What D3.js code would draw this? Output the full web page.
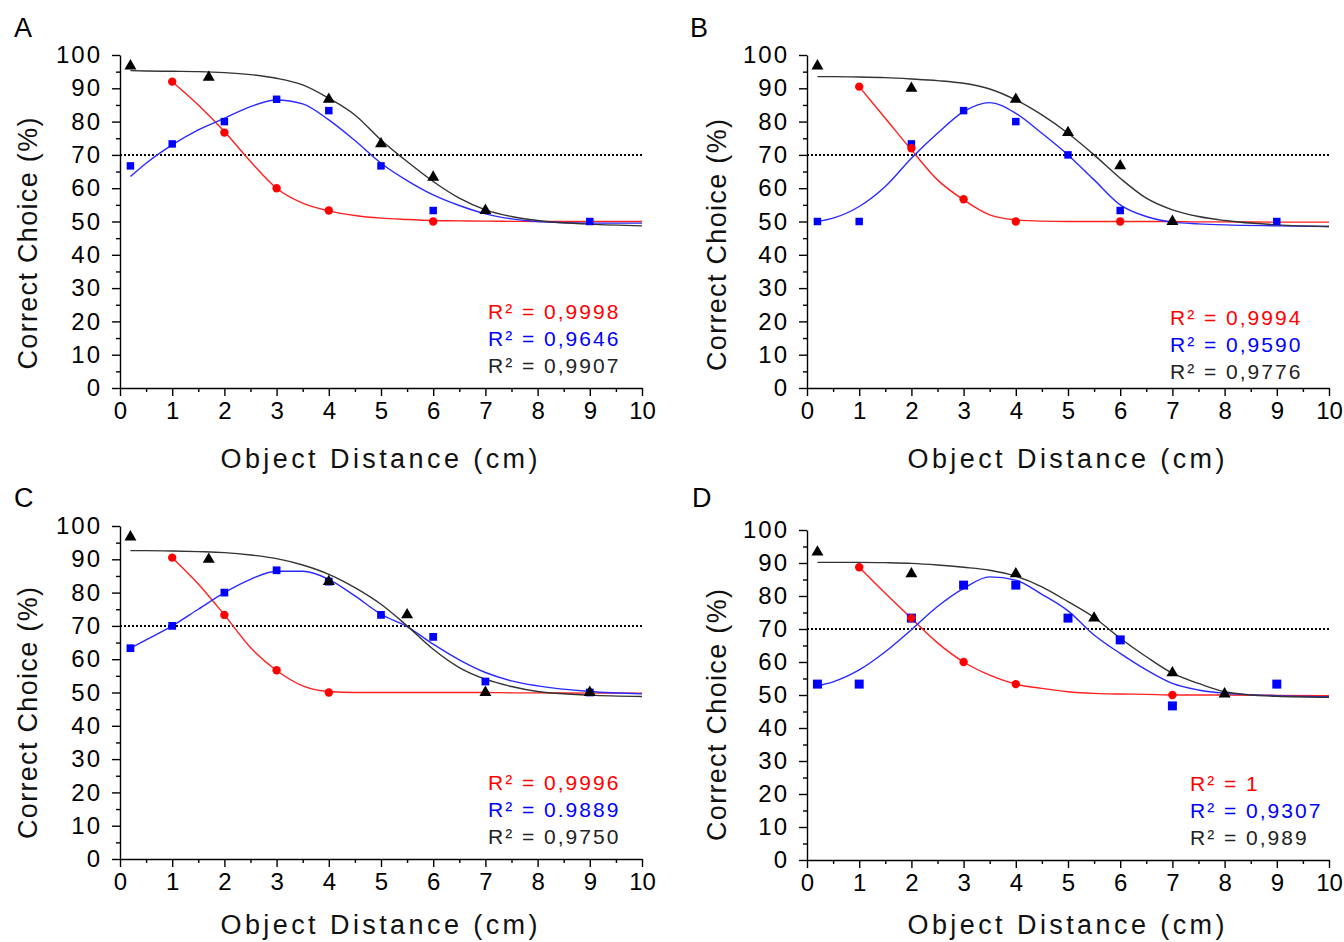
<!DOCTYPE html>
<html><head><meta charset="utf-8">
<script src="https://cdn.jsdelivr.net/npm/d3@7"></script>
<style>
html,body{margin:0;padding:0;background:#fff;}
text{font-family:"Liberation Sans",Arial,sans-serif;}
</style></head>
<body><svg id="chart" width="1344" height="942"></svg>
<script>
// ---------- shared ----------
const xTickValues = [0,1,2,3,4,5,6,7,8,9,10];
const yTickValues = [0,10,20,30,40,50,60,70,80,90,100];
const thresholdValue = 70;
const xTitle = "Object Distance (cm)";
const yTitle = "Correct Choice (%)";
const fitX = [0.2,0.5,1,1.5,2,2.5,3,3.5,4,4.5,5,5.5,6,6.5,7,7.5,8,9,10];

// ---------- Panel A ----------
const A_redX = [1,2,3,4,6];
const A_redY = [92,76.7,60,53.3,50];
const A_blueX = [0.2,1,2,3,4,5,6,9];
const A_blueY = [66.7,73.3,80,86.7,83.3,66.7,53.3,50];
const A_blackX = [0.2,1.7,4,5,6,7];
const A_blackY = [96.7,93.3,86.7,73.3,63.3,53.3];
const A_redFit = [null,null,92,85,77,68,60,55.5,53.2,51.8,51,50.6,50.3,50.2,50.1,50.05,50,50,50];
const A_blueFit = [63.5,67.5,73,77.5,81,84.5,86.5,85.3,80.5,74.3,67.5,62.3,58,54.8,52.3,50.8,50,49.5,49.5];
const A_blackFit = [95.3,95.2,95.1,95,94.7,94.1,93,91,87,82,74.5,68,62,57,53.5,51.5,50.3,49.2,48.7];
const A_r2 = ["R\u00b2 = 0,9998","R\u00b2 = 0,9646","R\u00b2 = 0,9907"];

// ---------- Panel B ----------
const B_redX = [1,2,3,4,6];
const B_redY = [90.5,72,56.7,50,50];
const B_blueX = [0.2,1,2,3,4,5,6,9];
const B_blueY = [50,50,73.3,83.3,80,70,53.3,50];
const B_blackX = [0.2,2,4,5,6,7];
const B_blackY = [96.7,90,86.7,76.7,66.7,50];
const B_redFit = [null,null,90.5,81,71.5,62.5,56.5,52,50.5,50.1,50,50,50,50,50,49.9,49.9,49.8,49.8];
const B_blueFit = [50,51,54.5,60.5,69,76.5,83,85.7,82.5,76.5,70,62.5,55,51.5,49.8,49.3,49,48.7,48.5];
const B_blackFit = [93.5,93.5,93.4,93.2,92.8,92.3,91.5,89.8,86.5,82,76.5,70,63,57,53.5,51.5,50.3,49,48.5];
const B_r2 = ["R\u00b2 = 0,9994","R\u00b2 = 0,9590","R\u00b2 = 0,9776"];

// ---------- Panel C ----------
const C_redX = [1,2,3,4];
const C_redY = [90.5,73.3,56.7,50];
const C_blueX = [0.2,1,2,3,4,5,6,7,9];
const C_blueY = [63.3,70,80,86.7,83.3,73.3,66.7,53.3,50];
const C_blackX = [0.2,1.7,4,5.5,7,9];
const C_blackY = [96.7,90,83.3,73.3,50,50];
const C_redFit = [null,null,90.5,82.6,73.3,63.5,56.6,52,50.3,50,50,50,50,50,50,49.9,49.9,49.8,49.8];
const C_blueFit = [63.3,65.8,70,75,80,84,86.4,86.4,84,79,73.5,69.8,64.5,59.8,56,53.5,52,50.3,49.6];
const C_blackFit = [92.6,92.6,92.5,92.3,92,91.3,90.2,88.3,85.5,81.5,76.5,70,63,57.5,54,51.8,50.3,49.2,48.8];
const C_r2 = ["R\u00b2 = 0,9996","R\u00b2 = 0.9889","R\u00b2 = 0,9750"];

// ---------- Panel D ----------
const D_redX = [1,2,3,4,7];
const D_redY = [88.7,73.3,60,53.3,50];
const D_blueX = [0.2,1,2,3,4,5,6,7,9];
const D_blueY = [53.3,53.3,73.3,83.3,83.3,73.3,66.7,46.7,53.3];
const D_blackX = [0.2,2,4,5.5,7,8];
const D_blackY = [93.3,86.7,86.7,73.3,56.7,50.3];
const D_redFit = [null,null,88.7,80.8,73.2,65.8,60,56,53.3,52,51,50.5,50.3,50.2,50,50,50,49.9,49.8];
const D_blueFit = [52.8,54,57.6,63.1,69.8,76.8,82.3,85.8,84.8,80.5,75.5,68.2,62.6,57.6,53.5,51.5,50.5,49.8,49.5];
const D_blackFit = [90.2,90.2,90.2,90.1,89.9,89.4,88.7,87.8,86,82.8,78.3,73.5,67.2,61.6,56.6,53.5,51,49.6,49.3];
const D_r2 = ["R\u00b2 = 1","R\u00b2 = 0,9307","R\u00b2 = 0,989"];

// ---------- layout ----------
const panels = [
  {label:"A", L:120, R:642, T:55,  B:388, lx:14,  ly:37,  yt:37,  ytc:243.5, xty:468, r2x:488,  r2y:319, sq:56,
   red:[A_redX,A_redY], blue:[A_blueX,A_blueY], black:[A_blackX,A_blackY], fits:[A_redFit,A_blueFit,A_blackFit], r2:A_r2},
  {label:"B", L:807, R:1329, T:55, B:388, lx:690, ly:37,  yt:726, ytc:245,  xty:468, r2x:1170, r2y:325, sq:56,
   red:[B_redX,B_redY], blue:[B_blueX,B_blueY], black:[B_blackX,B_blackY], fits:[B_redFit,B_blueFit,B_blackFit], r2:B_r2},
  {label:"C", L:120, R:642, T:526, B:859, lx:14,  ly:507, yt:37,  ytc:713,  xty:934, r2x:488,  r2y:790, sq:60,
   red:[C_redX,C_redY], blue:[C_blueX,C_blueY], black:[C_blackX,C_blackY], fits:[C_redFit,C_blueFit,C_blackFit], r2:C_r2},
  {label:"D", L:807, R:1329, T:530, B:860, lx:692, ly:507, yt:726, ytc:715,  xty:934, r2x:1190, r2y:791, sq:81,
   red:[D_redX,D_redY], blue:[D_blueX,D_blueY], black:[D_blackX,D_blackY], fits:[D_redFit,D_blueFit,D_blackFit], r2:D_r2}
];
const RED = "#ff0000", BLUE = "#0000ff", BLACK = "#000000";
const fitColors = ["#ff2020","#2a2aff","#333333"];
const r2Colors = [RED, BLUE, "#222222"];

const svg = d3.select("#chart");
svg.append("rect").attr("width",1344).attr("height",942).attr("fill","#fff");

panels.forEach(p => {
  const x = d3.scaleLinear().domain([0,10]).range([p.L, p.R]);
  const y = d3.scaleLinear().domain([0,100]).range([p.B, p.T]);
  const g = svg.append("g");

  // panel letter
  g.append("text").attr("x",p.lx).attr("y",p.ly).attr("font-size",27).attr("fill","#000").text(p.label);

  // y axis major + minor
  const yAx = g.append("g").attr("transform",`translate(${p.L},0)`)
    .call(d3.axisLeft(y).tickValues(yTickValues).tickSize(8).tickPadding(10).tickSizeOuter(0));
  yAx.selectAll("text").attr("font-size",24).attr("letter-spacing","2px").attr("fill","#000")
     .attr("font-family","Liberation Sans, Arial, sans-serif");
  g.append("g").attr("transform",`translate(${p.L},0)`)
    .call(d3.axisLeft(y).tickValues(d3.range(5,100,10)).tickSize(4).tickFormat("").tickSizeOuter(0))
    .select(".domain").remove();

  // x axis major + minor
  const xAx = g.append("g").attr("transform",`translate(0,${p.B})`)
    .call(d3.axisBottom(x).tickValues(xTickValues).tickSize(8).tickPadding(6).tickSizeOuter(0));
  xAx.selectAll("text").attr("font-size",24).attr("fill","#000")
     .attr("font-family","Liberation Sans, Arial, sans-serif");
  g.append("g").attr("transform",`translate(0,${p.B})`)
    .call(d3.axisBottom(x).tickValues(d3.range(0.5,10,1)).tickSize(4).tickFormat("").tickSizeOuter(0))
    .select(".domain").remove();
  g.selectAll(".domain, .tick line").attr("stroke","#000").attr("stroke-width",1.4);

  // axis titles
  g.append("text").attr("x",(p.L+p.R)/2 - 2).attr("y",p.xty).attr("text-anchor","middle")
    .attr("font-size",27).attr("textLength",317).attr("lengthAdjust","spacing").attr("fill","#111").text(xTitle);
  g.append("text").attr("transform",`translate(${p.yt},${p.ytc}) rotate(-90)`).attr("text-anchor","middle")
    .attr("font-size",27).attr("textLength",252).attr("lengthAdjust","spacing").attr("fill","#111").text(yTitle);

  // threshold dotted line
  g.append("line").attr("x1",x(0)).attr("x2",x(10)).attr("y1",y(thresholdValue)).attr("y2",y(thresholdValue))
    .attr("stroke","#000").attr("stroke-width",2).attr("stroke-dasharray","2,2");

  // fitted curves
  const line = d3.line().defined(d => d[1] !== null).x(d => x(d[0])).y(d => y(d[1])).curve(d3.curveMonotoneX);
  p.fits.forEach((f,i) => {
    g.append("path").datum(fitX.map((xv,j) => [xv, f[j]]))
      .attr("d", line).attr("fill","none").attr("stroke",fitColors[i]).attr("stroke-width",1.4);
  });

  // markers: squares, circles, triangles
  const sq = d3.symbol().type(d3.symbolSquare).size(p.sq);
  g.selectAll(null).data(p.blue[0].map((xv,i)=>[xv,p.blue[1][i]])).enter().append("path")
    .attr("d",sq).attr("transform",d=>`translate(${x(d[0])},${y(d[1])})`).attr("fill",BLUE);
  g.selectAll(null).data(p.red[0].map((xv,i)=>[xv,p.red[1][i]])).enter().append("circle")
    .attr("cx",d=>x(d[0])).attr("cy",d=>y(d[1])).attr("r",4.2).attr("fill",RED);
  const tri = d3.symbol().type(d3.symbolTriangle).size(62);
  g.selectAll(null).data(p.black[0].map((xv,i)=>[xv,p.black[1][i]])).enter().append("path")
    .attr("d",tri).attr("transform",d=>`translate(${x(d[0])},${y(d[1])})`).attr("fill",BLACK);

  // R² labels
  p.r2.forEach((t,i) => {
    g.append("text").attr("x",p.r2x).attr("y",p.r2y + i*27).attr("font-size",21)
      .attr("letter-spacing","2px").attr("fill",r2Colors[i]).text(t);
  });
});
</script></body></html>
